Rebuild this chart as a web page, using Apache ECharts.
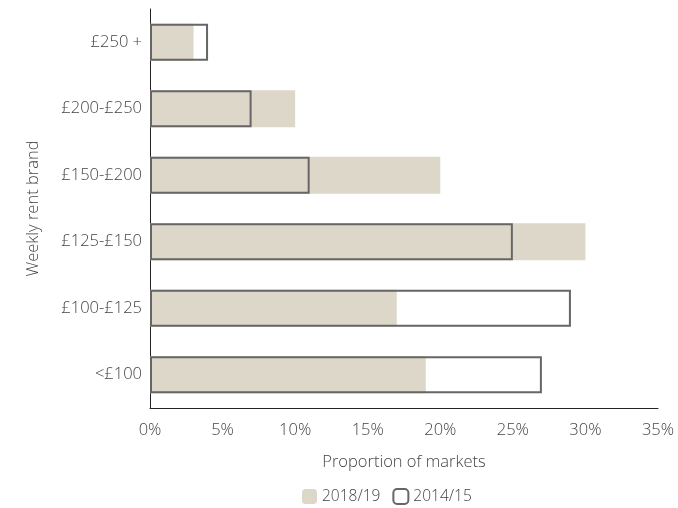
<!DOCTYPE html>
<html>
<head>
<meta charset="utf-8">
<script src="https://cdn.jsdelivr.net/npm/echarts@6/dist/echarts.min.js"></script>
<style>
	html, body { margin: 0; padding: 0; background: #fff; }
	#chart { width: 678px; height: 508px; }
</style>
</head>
<body>
<div id="chart"></div>
<script>
// rent bands, bottom to top
var bands = ['<£100', '£100-£125', '£125-£150', '£150-£200', '£200-£250', '£250 +'];
var share1819 = [19, 17, 30, 20, 10, 3];
var share1415 = [27, 29, 25, 11, 7, 4];
var seriesNames = ['2018/19', '2014/15'];

var textColor = '#444';
var fontName = 'Open Sans';
var fontSize = 16.5;

var chart = echarts.init(document.getElementById('chart'));
chart.setOption({
	animation : false,
	grid : {
		left : 150,
		right : 20,
		top : 9,
		bottom : 100
	},
	legend : {
		top : 483,
		left : 297,
		itemWidth : 15,
		itemHeight : 15,
		itemGap : 12,
		textStyle : {
			color : textColor,
			fontFamily : fontName,
			fontSize : 15.5,
			fontWeight : 300
		},
		data : seriesNames
	},
	xAxis : {
		type : 'value',
		min : 0,
		max : 35,
		interval : 5,
		name : 'Proportion of markets',
		nameLocation : 'middle',
		nameGap : 46,
		nameTextStyle : {
			color : textColor,
			fontFamily : fontName,
			fontSize : fontSize,
			fontWeight : 300
		},
		axisLine : { show : true, lineStyle : { color : '#222', width : 1 } },
		axisTick : { show : false },
		splitLine : { show : false },
		axisLabel : {
			formatter : '{value}%',
			color : textColor,
			fontFamily : fontName,
			fontSize : fontSize,
			fontWeight : 300,
			margin : 14
		}
	},
	yAxis : {
		type : 'category',
		data : bands,
		name : 'Weekly rent brand',
		nameLocation : 'middle',
		nameGap : 108,
		nameTextStyle : {
			color : textColor,
			fontFamily : fontName,
			fontSize : fontSize,
			fontWeight : 300
		},
		axisLine : { show : true, lineStyle : { color : '#222', width : 1 } },
		axisTick : { show : false },
		axisLabel : {
			color : textColor,
			fontFamily : fontName,
			fontSize : fontSize,
			fontWeight : 300,
			margin : 8
		}
	},
	series : [ {
		name : seriesNames[0],
		type : 'bar',
		data : share1819,
		barWidth : 37,
		barGap : '-100%',
		itemStyle : { color : '#ddd7ca' }
	}, {
		name : seriesNames[1],
		type : 'bar',
		data : share1415,
		barWidth : 37,
		barGap : '-100%',
		itemStyle : {
			color : 'rgba(255,255,255,0)',
			borderColor : '#666',
			borderWidth : 2
		}
	} ]
});
</script>
</body>
</html>
